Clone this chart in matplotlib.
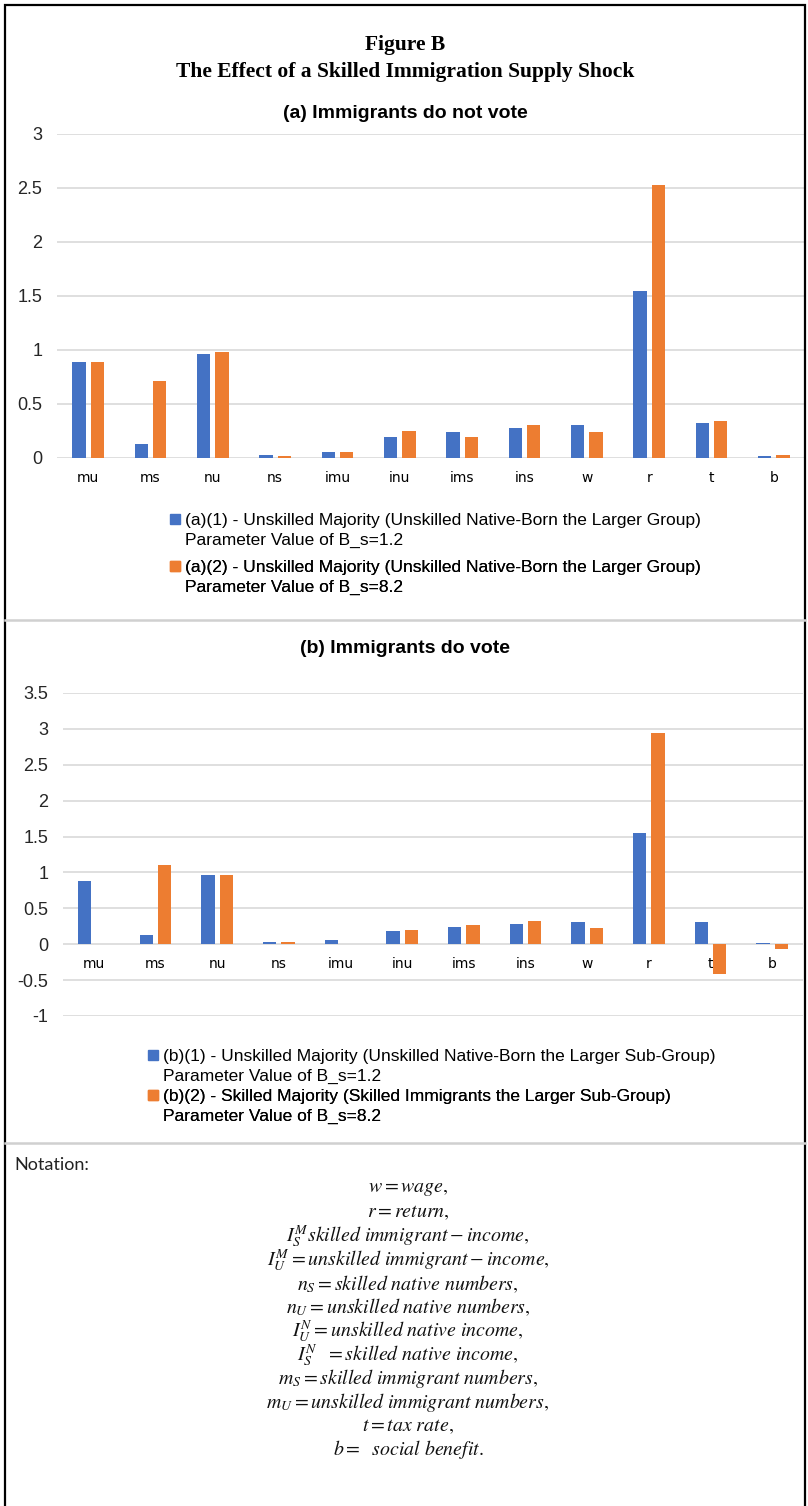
import matplotlib
matplotlib.use('Agg')
import matplotlib.pyplot as plt
import numpy as np
from matplotlib.patches import Rectangle
from matplotlib.lines import Line2D

# values
categories = ['mu', 'ms', 'nu', 'ns', 'imu', 'inu', 'ims', 'ins', 'w', 'r', 't', 'b']
a1 = [0.89, 0.13, 0.96, 0.03, 0.06, 0.19, 0.24, 0.28, 0.31, 1.55, 0.32, 0.02]
a2 = [0.89, 0.71, 0.98, 0.02, 0.06, 0.25, 0.19, 0.31, 0.24, 2.53, 0.34, 0.03]
b1 = [0.88, 0.13, 0.96, 0.03, 0.06, 0.18, 0.24, 0.28, 0.31, 1.55, 0.31, 0.02]
b2 = [0.0, 1.10, 0.96, 0.03, 0.0, 0.20, 0.27, 0.33, 0.22, 2.94, -0.42, -0.06]

a_labels = [('(a)(1) - Unskilled Majority (Unskilled Native-Born the Larger Group)', 'Parameter Value of B_s=1.2'),
            ('(a)(2) - Unskilled Majority (Unskilled Native-Born the Larger Group)', 'Parameter Value of B_s=8.2')]
b_labels = [('(b)(1) - Unskilled Majority (Unskilled Native-Born the Larger Sub-Group)', 'Parameter Value of B_s=1.2'),
            ('(b)(2) - Skilled Majority (Skilled Immigrants the Larger Sub-Group)', 'Parameter Value of B_s=8.2')]

notation = [r'$w = wage,$',
            r'$r = return,$',
            r'$I_S^M skilled\ immigrant - income,$',
            r'$I_U^M = unskilled\ immigrant - income,$',
            r'$n_S = skilled\ native\ numbers,$',
            r'$n_U = unskilled\ native\ numbers,$',
            r'$I_U^N = unskilled\ native\ income,$',
            r'$I_S^N\ \ = skilled\ native\ income,$',
            r'$m_S = skilled\ immigrant\ numbers,$',
            r'$m_U = unskilled\ immigrant\ numbers,$',
            r'$t = tax\ rate,$',
            r'$b =\ \ social\ benefit.$']

BLUE = '#4472C4'
ORANGE = '#ED7D31'
GRID = '#D9D9D9'
SANS = ['Liberation Sans', 'DejaVu Sans']

plt.rcParams['mathtext.fontset'] = 'stix'

W, H = 808, 1506
fig = plt.figure(figsize=(W / 100, H / 100), dpi=100)


def rect(left, top, right, bottom):
    return [left / W, 1 - bottom / H, (right - left) / W, (bottom - top) / H]


def bar_panel(ax, s1, s2, ylim, step):
    x = np.arange(len(categories))
    ax.bar(x - 0.148, s1, width=0.215, color=BLUE)
    ax.bar(x + 0.148, s2, width=0.215, color=ORANGE)
    ax.set_xlim(-0.5, len(categories) - 0.5)
    ax.set_ylim(*ylim)
    ticks = np.arange(ylim[0], ylim[1] + step / 2, step)
    ax.set_yticks(ticks)
    ax.set_yticklabels([f'{v:g}' for v in ticks], family=SANS, fontsize=13, color='#262626')
    ax.set_xticks(x)
    ax.set_xticklabels(categories, family=SANS, fontsize=13, color='#262626')
    ax.spines['bottom'].set_position(('data', 0))
    for s in ax.spines.values():
        s.set_visible(False)
    ax.tick_params(axis='both', length=0)
    ax.tick_params(axis='y', pad=10.5)
    ax.tick_params(axis='x', pad=9.5)
    ax.grid(axis='y', color=GRID, lw=1.2)
    ax.set_axisbelow(True)


def legend_entry(ax, color, lines, x, y):
    handles = [Rectangle((0, 0), 1, 1, color=color), Rectangle((0, 0), 1, 1, fill=False, lw=0)]
    leg = ax.legend(handles, list(lines), loc='upper left', bbox_to_anchor=(x / W, 1 - y / H),
                    bbox_transform=fig.transFigure, frameon=False,
                    prop={'family': SANS, 'size': 12.5}, handlelength=0.55, handleheight=0.55,
                    handletextpad=0.3, labelspacing=0.3, borderaxespad=0, borderpad=0)
    ax.add_artist(leg)


ax1 = fig.add_axes(rect(57, 134, 805, 458))
bar_panel(ax1, a1, a2, (0, 3), 0.5)
ax2 = fig.add_axes(rect(63, 693, 803, 1016))
bar_panel(ax2, b1, b2, (-1, 3.5), 0.5)

# legends
legend_entry(ax1, BLUE, a_labels[0], 170, 513)
legend_entry(ax1, ORANGE, a_labels[1], 170, 560)
legend_entry(ax2, BLUE, b_labels[0], 148, 1049)
legend_entry(ax2, ORANGE, b_labels[1], 148, 1089)

# titles
fig.text(405 / W, 1 - 45 / H, 'Figure B', ha='center', va='center',
         family='Liberation Serif', weight='bold', fontsize=15.5)
fig.text(405 / W, 1 - 72 / H, 'The Effect of a Skilled Immigration Supply Shock', ha='center',
         va='center', family='Liberation Serif', weight='bold', fontsize=15.5)
fig.text(405 / W, 1 - 113 / H, '(a) Immigrants do not vote', ha='center', va='center',
         family=SANS, weight='bold', fontsize=14)
fig.text(405 / W, 1 - 648 / H, '(b) Immigrants do vote', ha='center', va='center',
         family=SANS, weight='bold', fontsize=14)

# notation block
fig.text(14 / W, 1 - 1165 / H, 'Notation:', ha='left', va='center',
         family=['Lato', 'DejaVu Sans'], fontsize=13, color='#222222')
for i, line in enumerate(notation):
    fig.text(408 / W, 1 - (1189 + i * 23.7) / H, line, ha='center', va='center',
             fontsize=14.3, color='#111111')

# frame and separators
fig.add_artist(Rectangle((5 / W, -0.01), 800 / W, 1.01 - 5 / H, transform=fig.transFigure,
                         fill=False, ec='black', lw=1.6))
for yy in (620, 1143):
    fig.add_artist(Line2D([5 / W, 805 / W], [1 - yy / H, 1 - yy / H], transform=fig.transFigure,
                          color='#D0D0D0', lw=1.8))

fig.savefig('out.png', dpi=100, facecolor='white')
